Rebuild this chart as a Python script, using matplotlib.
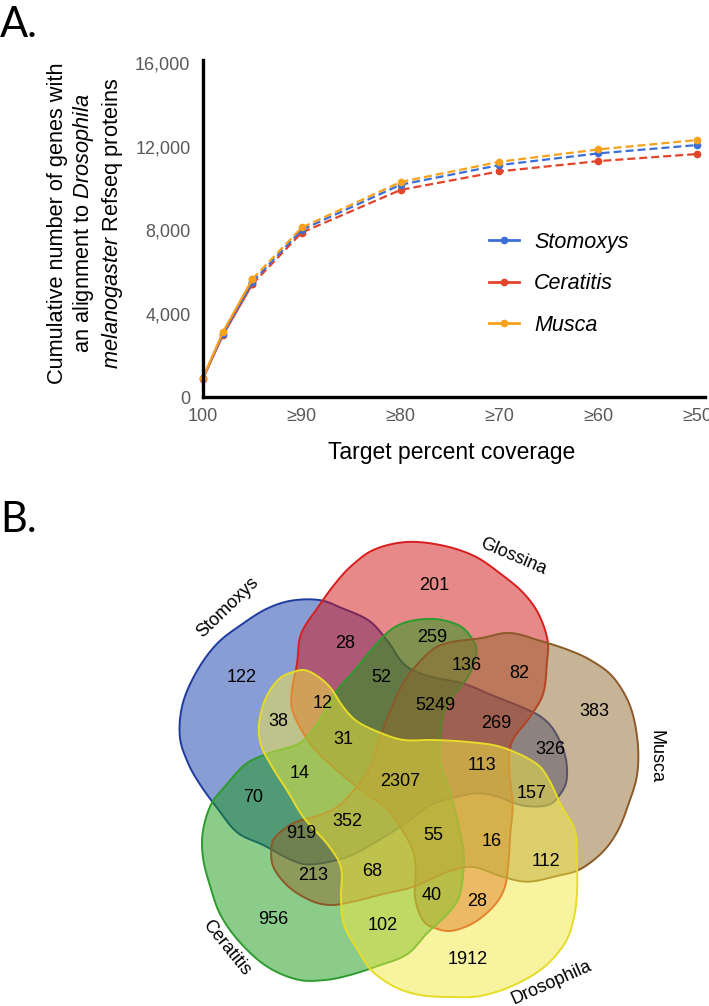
import numpy as np
import matplotlib.pyplot as plt
from matplotlib.colors import to_rgb
from matplotlib.patches import Polygon
from matplotlib.lines import Line2D
from matplotlib.ticker import FuncFormatter

plt.rcParams['font.family'] = ['Liberation Sans', 'DejaVu Sans']
plt.rcParams['mathtext.fontset'] = 'custom'
plt.rcParams['mathtext.rm'] = 'Liberation Sans'
plt.rcParams['mathtext.it'] = 'Liberation Sans:italic'

# --- panel A data ---
coverage = [100, 98, 95, 90, 80, 70, 60, 50]
tick_pos = [100, 90, 80, 70, 60, 50]
tick_labels = ['100', '≥90', '≥80', '≥70', '≥60', '≥50']
stomoxys = [900, 3030, 5520, 8010, 10170, 11110, 11670, 12070]
ceratitis = [880, 2950, 5410, 7880, 9920, 10810, 11300, 11640]
musca = [920, 3100, 5650, 8120, 10300, 11270, 11860, 12310]
species = ['Stomoxys', 'Ceratitis', 'Musca']

# --- panel B data ---
set_names = ['Stomoxys', 'Glossina', 'Musca', 'Drosophila', 'Ceratitis']
region_counts = [122, 28, 52, 12, 38, 31, 14,
                 201, 259, 136, 82, 5249, 269, 383, 326, 113,
                 70, 2307, 352, 919, 213, 68, 956, 102,
                 157, 55, 16, 112, 40, 28, 1912]

W, H = 709, 1006
fig = plt.figure(figsize=(W / 100, H / 100), dpi=100)

# ---------------- Venn (pixel coordinates) ----------------
vax = fig.add_axes([0, 0, 1, 1])
vax.set_xlim(0, W)
vax.set_ylim(H, 0)
vax.axis('off')
vax.patch.set_alpha(0)

center = np.array([406.0, 777.0])
# one shape (the Drosophila one), offsets from centre; the other four are rotations of it
template = [(-98, -106), (-78, -92), (-62, -69), (-48, -55), (-25, -44), (-2, -37),
            (28, -37), (62, -35), (95, -30), (128, -15), (142, 1), (155, 28),
            (169, 54), (171, 85), (171, 115), (168, 140), (159, 166), (137, 191),
            (106, 209), (74, 219), (43, 220), (14, 218), (-11, 210), (-34, 194),
            (-47, 175), (-62, 148), (-65, 121), (-65, 91), (-78, 68), (-102, 41),
            (-118, 15), (-135, -12), (-145, -32), (-147, -52), (-141, -77),
            (-128, -97), (-113, -105)]


def smooth_closed(pts, n=16):
    P = np.asarray(pts, float)
    N = len(P)
    t = np.linspace(0, 1, n, endpoint=False)[:, None]
    out = []
    for i in range(N):
        p0, p1, p2, p3 = P[i - 1], P[i], P[(i + 1) % N], P[(i + 2) % N]
        out.append(0.5 * (2 * p1 + (-p0 + p2) * t + (2 * p0 - 5 * p1 + 4 * p2 - p3) * t ** 2
                          + (-p0 + 3 * p1 - 3 * p2 + p3) * t ** 3))
    return np.vstack(out)


def rotated(pts, deg):
    a = np.deg2rad(deg)
    P = np.asarray(pts, float)
    x, y = P[:, 0], -P[:, 1]
    xr = x * np.cos(a) - y * np.sin(a)
    yr = x * np.sin(a) + y * np.cos(a)
    return np.column_stack([xr, -yr]) + center


shape = smooth_closed(template)
rot = {'Stomoxys': -144, 'Glossina': 144, 'Musca': 72, 'Drosophila': 0, 'Ceratitis': -72}
face = {'Stomoxys': '#153dad', 'Glossina': '#d11515', 'Musca': '#91692d',
        'Drosophila': '#f1e941', 'Ceratitis': '#199b19'}
edge = {'Stomoxys': '#1e3ca0', 'Glossina': '#d81e1e', 'Musca': '#8c5a28',
        'Drosophila': '#e6dc28', 'Ceratitis': '#2d9b2d'}
for name in ['Stomoxys', 'Glossina', 'Ceratitis', 'Musca', 'Drosophila']:
    pts = rotated(shape, rot[name])
    vax.add_patch(Polygon(pts, closed=True, fc=(*to_rgb(face[name]), 0.5),
                          ec=edge[name], lw=1.4))

region_xy = [(242, 677), (345, 644), (381, 677), (323, 703), (278, 722), (343, 740), (300, 773),
             (434, 585), (432, 637), (467, 666), (519, 673), (435, 705), (496, 723), (594, 712),
             (550, 750), (482, 766),
             (253, 797), (400, 781), (347, 821), (301, 833), (313, 876), (372, 872), (273, 920),
             (383, 925),
             (532, 793), (433, 835), (492, 842), (546, 861), (432, 895), (477, 902), (468, 959)]
for (x, y), n in zip(region_xy, region_counts):
    vax.text(x, y, str(n), ha='center', va='center', fontsize=13, color='black')

name_xy = [(228, 607, 44), (513, 557, -23), (656, 757, -90), (551, 983, 24), (226, 948, -51)]
for (x, y, r), n in zip(name_xy, set_names):
    vax.text(x, y, n, ha='center', va='center', rotation=r, fontsize=13,
             rotation_mode='anchor')

# ---------------- Panel A ----------------
ax = fig.add_axes([203 / W, 1 - 397 / H, (705 - 203) / W, (397 - 60) / H])
colors = {'Stomoxys': '#3b6fd6', 'Ceratitis': '#e2442a', 'Musca': '#f8a21c'}
series = {'Stomoxys': stomoxys, 'Ceratitis': ceratitis, 'Musca': musca}
for name in ['Ceratitis', 'Stomoxys', 'Musca']:
    ys = series[name]
    c = colors[name]
    # first stretch solid, the rest dashed
    ax.plot(coverage[:3], ys[:3], '-', color=c, lw=1.6, marker='o', ms=4.5, clip_on=False)
    ax.plot(coverage[2:], ys[2:], color=c, lw=1.6, ls=(0, (3.6, 1.8)), marker='o', ms=4.5,
            clip_on=False)

ax.set_xlim(100, 49.2)
ax.set_ylim(0, 16144)
ax.set_xticks(tick_pos)
ax.set_xticklabels(tick_labels)
ax.set_yticks([0, 4000, 8000, 12000, 16000])
ax.yaxis.set_major_formatter(FuncFormatter(lambda v, p: f'{int(v):,}'))
ax.tick_params(length=0, labelsize=13, labelcolor='#595959')
ax.tick_params(axis='y', pad=9)
ax.tick_params(axis='x', pad=8)
for s in ['top', 'right']:
    ax.spines[s].set_visible(False)
for s in ['left', 'bottom']:
    ax.spines[s].set_linewidth(2.4)
    ax.spines[s].set_color('black')
ax.patch.set_alpha(0)

handles = [Line2D([], [], color=colors[n], lw=2, marker='o', ms=4.5) for n in species]
ax.legend(handles, species, loc='upper left', bbox_to_anchor=(489 / W, 1 - 232 / H),
          bbox_transform=fig.transFigure, frameon=False,
          prop={'style': 'italic', 'size': 15.5}, handlelength=1.4, handletextpad=0.7,
          labelspacing=0.95, borderpad=0, borderaxespad=0)

fig.text(86 / W, 1 - 223 / H,
         'Cumulative number of genes with\nan alignment to $\\it{Drosophila}$\n'
         '$\\it{melanogaster}$ Refseq proteins',
         rotation=90, ha='center', va='center', multialignment='center', fontsize=15.7)
fig.text(452 / W, 1 - 453 / H, 'Target percent coverage', ha='center', va='center',
         fontsize=16.5)

fig.text(0, 1 - 25 / H, 'A.', fontsize=30, family='Lato', va='center', ha='left')
fig.text(0, 1 - 520 / H, 'B.', fontsize=30, family='Lato', va='center', ha='left')

fig.savefig('out.png', dpi=100)
